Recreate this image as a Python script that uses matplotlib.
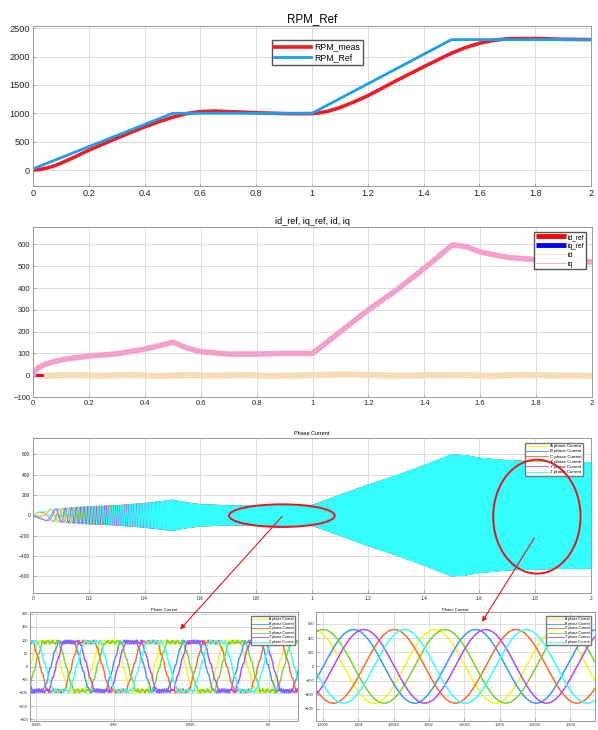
import numpy as np
import matplotlib
matplotlib.use("Agg")
import matplotlib.pyplot as plt
from matplotlib.lines import Line2D
from matplotlib.patches import Ellipse, ConnectionPatch

plt.rcParams['font.family'] = ['Liberation Sans', 'DejaVu Sans']

# ---- data ----
ref_time = [0.0, 0.5, 1.0, 1.5, 2.0]
rpm_ref = [20, 1000, 1000, 2300, 2300]

meas_time = [0.0, 0.02, 0.05, 0.08, 0.1, 0.15, 0.2, 0.3, 0.4, 0.45, 0.5, 0.55, 0.6, 0.65,
             0.7, 0.8, 0.9, 0.95, 1.0, 1.03, 1.06, 1.1, 1.15, 1.2, 1.3, 1.4, 1.5, 1.55,
             1.6, 1.65, 1.7, 1.8, 1.9, 2.0]
rpm_meas = [0, 5, 35, 80, 120, 230, 350, 560, 760, 850, 930, 995, 1030, 1040,
            1030, 1010, 995, 993, 995, 1010, 1040, 1100, 1200, 1310, 1570, 1820, 2060, 2160,
            2235, 2285, 2315, 2320, 2305, 2300]

iq_time = [0.0, 0.005, 0.01, 0.02, 0.04, 0.06, 0.08, 0.1, 0.15, 0.2, 0.3, 0.4, 0.45, 0.5,
           0.55, 0.6, 0.7, 0.8, 0.9, 1.0, 1.1, 1.2, 1.3, 1.4, 1.5, 1.55, 1.6, 1.7, 1.8,
           1.9, 2.0]
iq_vals = [0, 12, 22, 35, 48, 57, 64, 70, 80, 88, 98, 120, 135, 152,
           125, 108, 97, 97, 100, 100, 200, 300, 390, 490, 598, 590, 565, 540, 530,
           525, 520]

id_time = [0.05, 0.15, 0.25, 0.35, 0.45, 0.55, 0.65, 0.75, 0.85, 0.95, 1.05, 1.15,
           1.25, 1.35, 1.45, 1.55, 1.65, 1.75, 1.85, 1.95, 2.0]
id_vals = [-2, 1, -3, 2, -4, 0, -2, 1, -3, -1, 2, 3, -1, -2, 1, 0, -3, 2, -1, -2, -3]
id_ref_time = [0.0, 2.0]
id_ref_vals = [2, 2]

phase_names = ["A phase Current", "B phase Current", "C phase Current",
               "X phase Current", "Y phase Current", "Z phase Current"]
phase_shift_deg = [0, 120, 240, 30, 150, 270]
pole_pairs = 15

zoom1_xlim = (0.8846, 0.9019)
zoom1_ticks = [0.885, 0.89, 0.895, 0.9]
zoom1_amp = 92
zoom2_xlim = (1.8004, 1.80435)
zoom2_ticks = [1.8005, 1.801, 1.8015, 1.802, 1.8025, 1.803, 1.8035, 1.804]
zoom2_amp = 520

phase_colors = ['#f4f41c', '#3399ff', '#ff6a28', '#77d42a', '#b347ff', '#33ffff']

W, H = 598, 730
fig = plt.figure(figsize=(W / 100, H / 100), dpi=100)


def add_ax(left, right, top, bottom):
    return fig.add_axes([left / W, 1 - bottom / H, (right - left) / W, (bottom - top) / H])


def style(ax, fs):
    ax.grid(True, color='#dcdcdc', linewidth=0.7)
    ax.set_axisbelow(True)
    for s in ax.spines.values():
        s.set_color('#9a9a9a')
        s.set_linewidth(0.7)
    ax.tick_params(direction='in', length=2, width=0.5, colors='#9a9a9a',
                   labelsize=fs, labelcolor='#262626', pad=2)


xlabels = ['0', '0.2', '0.4', '0.6', '0.8', '1', '1.2', '1.4', '1.6', '1.8', '2']

# ---- plot 1: speed ----
ax1 = add_ax(33, 591, 26, 186)
ax1.plot(meas_time, rpm_meas, color='#ee1c25', lw=2.6, label='RPM_meas')
ax1.plot(ref_time, rpm_ref, color='#1c9fe8', lw=2.0, label='RPM_Ref')
ax1.set_xlim(0, 2)
ax1.set_ylim(-282, 2540)
ax1.set_xticks(np.arange(0, 2.01, 0.2))
ax1.set_xticklabels(xlabels)
ax1.set_yticks([0, 500, 1000, 1500, 2000, 2500])
style(ax1, 6.6)
ax1.set_title('RPM_Ref', fontsize=8.3, pad=3)
ax1.legend(loc='upper left', bbox_to_anchor=(0.42, 0.94), fontsize=6.3, fancybox=False,
           edgecolor='#555555', framealpha=1, handlelength=4.2, borderpad=0.3,
           labelspacing=0.2, handletextpad=0.4)

# ---- plot 2: currents dq ----
ax2 = add_ax(33, 592, 227, 397)
ax2.plot(id_ref_time, id_ref_vals, color='#ff0000', lw=2.2)
ax2.plot(iq_time, iq_vals, color='#0000ff', lw=2.2)
ax2.plot(id_time, id_vals, color='#f8dcb4', lw=4.5)
ax2.plot(iq_time, iq_vals, color='#f4a0cc', lw=4.0)
ax2.set_xlim(0, 2)
ax2.set_ylim(-100, 680)
ax2.set_xticks(np.arange(0, 2.01, 0.2))
ax2.set_xticklabels(xlabels)
ax2.set_yticks(np.arange(-100, 601, 100))
style(ax2, 5.5)
ax2.set_title('id_ref, iq_ref, id, iq', fontsize=6.5, pad=2)
h2 = [Line2D([], [], color='#ff0000', lw=3.5, solid_capstyle='butt'),
      Line2D([], [], color='#0000ff', lw=3.5, solid_capstyle='butt'),
      Line2D([], [], color='#f8dcb4', lw=0.6), Line2D([], [], color='#f4a0cc', lw=0.6)]
ax2.legend(h2, ['id_ref', 'iq_ref', 'id', 'iq'], loc='upper right', bbox_to_anchor=(0.9895, 0.97),
           fontsize=4.8, fancybox=False, edgecolor='#555555', framealpha=1,
           handlelength=4.5, borderpad=0.25, labelspacing=0.3, handletextpad=0.3,
           borderaxespad=0)

# ---- plot 3: phase currents ----
t = np.linspace(0, 2, 80001)
dt = t[1] - t[0]
freq = np.interp(t, meas_time, rpm_meas) / 60 * pole_pairs
theta = 2 * np.pi * np.cumsum(freq) * dt
amp = np.interp(t, iq_time, iq_vals)

ax3 = add_ax(33, 591, 438, 593)
for name, sh, c in zip(phase_names, phase_shift_deg, phase_colors):
    ax3.plot(t, amp * np.sin(theta - np.deg2rad(sh)), color=c, lw=0.5)
ax3.set_xlim(0, 2)
ax3.set_ylim(-765, 762)
ax3.set_xticks(np.arange(0, 2.01, 0.2))
ax3.set_xticklabels(xlabels)
ax3.set_yticks(np.arange(-600, 601, 200))
style(ax3, 3.5)
ax3.set_title('Phase Current', fontsize=4, pad=2)
h3 = [Line2D([], [], color=c, lw=0.6) for c in phase_colors]
ax3.legend(h3, phase_names, loc='upper right', bbox_to_anchor=(0.985, 0.97), fontsize=3.2,
           fancybox=False, edgecolor='#777777', framealpha=1, handlelength=5,
           borderpad=0.3, labelspacing=0.25, handletextpad=0.3, borderaxespad=0)
ax3.add_patch(Ellipse((0.892, -3), 0.379, 223, fill=False, edgecolor='#e8141b', lw=1.4, zorder=6))
ax3.add_patch(Ellipse((1.806, -13), 0.313, 1122, fill=False, edgecolor='#e8141b', lw=1.4, zorder=6))

# ---- zoom 1: around 0.89 s ----
ins1 = add_ax(30, 298, 612, 721)
t1 = np.linspace(zoom1_xlim[0], zoom1_xlim[1], 4000)
f1 = np.interp(0.89, meas_time, rpm_meas) / 60 * pole_pairs
th1 = 2 * np.pi * f1 * (t1 - zoom1_xlim[0])
for k, (sh, c) in enumerate(zip(phase_shift_deg, phase_colors)):
    a = th1 - np.deg2rad(sh)
    wave = np.clip(1.5 * np.sin(a), -1, 1) * zoom1_amp
    ripple = 5 * np.sin(2 * np.pi * 3100 * t1 + k) + 3 * np.sin(2 * np.pi * 7300 * t1 + 2 * k)
    ins1.plot(t1, wave + ripple, color=c, lw=1.0)
ins1.set_xlim(*zoom1_xlim)
ins1.set_ylim(-206, 206)
ins1.set_xticks(zoom1_ticks)
ins1.set_xticklabels(['%g' % v for v in zoom1_ticks])
ins1.set_yticks(np.arange(-200, 201, 50))
style(ins1, 2.8)
ins1.tick_params(pad=1.5)
ins1.set_title('Phase Current', fontsize=3, pad=1)
ins1.legend(h3, phase_names, loc='upper right', bbox_to_anchor=(0.99, 0.96), fontsize=2.4,
            fancybox=False, edgecolor='#777777', framealpha=1, handlelength=5,
            borderpad=0.3, labelspacing=0.15, handletextpad=0.3, borderaxespad=0)

# ---- zoom 2: around 1.80 s ----
ins2 = add_ax(316, 595, 612, 721)
t2 = np.linspace(zoom2_xlim[0], zoom2_xlim[1], 3000)
f2 = np.interp(1.8, meas_time, rpm_meas) / 60 * pole_pairs
th2 = 2 * np.pi * f2 * (t2 - zoom2_xlim[0]) + np.pi / 2 + 0.15
for sh, c in zip(phase_shift_deg, phase_colors):
    ins2.plot(t2, zoom2_amp * np.sin(th2 - np.deg2rad(sh)), color=c, lw=1.1)
ins2.set_xlim(*zoom2_xlim)
ins2.set_ylim(-772, 768)
ins2.set_xticks(zoom2_ticks)
ins2.set_xticklabels(['%g' % v for v in zoom2_ticks])
ins2.set_yticks(np.arange(-600, 601, 200))
style(ins2, 2.8)
ins2.tick_params(pad=1.5)
ins2.set_title('Phase Current', fontsize=3, pad=1)
ins2.legend(h3, phase_names, loc='upper right', bbox_to_anchor=(0.985, 0.96), fontsize=2.4,
            fancybox=False, edgecolor='#777777', framealpha=1, handlelength=5,
            borderpad=0.3, labelspacing=0.15, handletextpad=0.3, borderaxespad=0)

# ---- arrows from ellipses to zooms ----
for xyA, axB, xyB in [((0.893, -10), ins1, (0.56, 0.84)), ((1.797, -223), ins2, (0.595, 0.91))]:
    con = ConnectionPatch(xyA=xyA, coordsA=ax3.transData, xyB=xyB, coordsB=axB.transAxes,
                          arrowstyle='-|>', color='#e8141b', lw=0.8, mutation_scale=7, zorder=7)
    fig.add_artist(con)

fig.savefig('out.png', dpi=100)
